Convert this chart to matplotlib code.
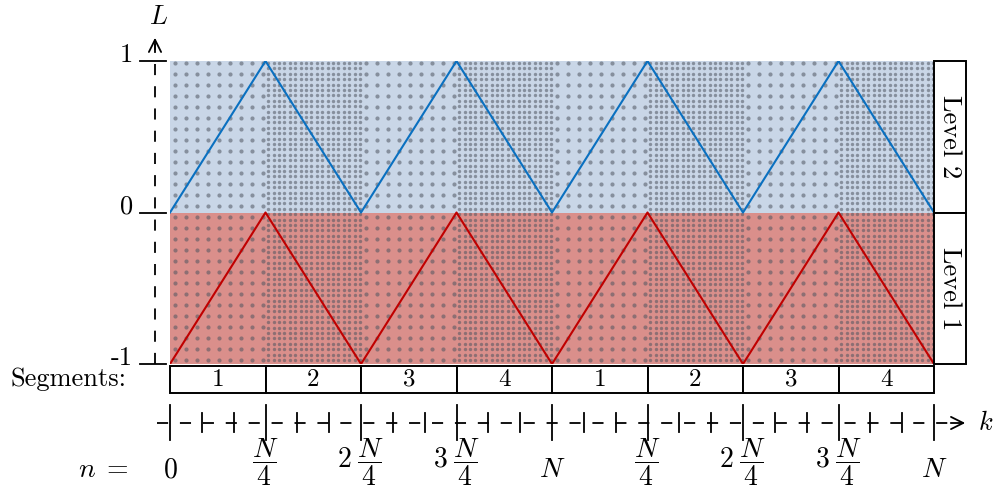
import numpy as np
import matplotlib
matplotlib.use("Agg")
import matplotlib.pyplot as plt
from matplotlib.patches import Rectangle

plt.rcParams['font.family'] = 'serif'
plt.rcParams['font.serif'] = ['cmr10']
plt.rcParams['mathtext.fontset'] = 'cm'
plt.rcParams['lines.scale_dashes'] = False

# k in units of N/4, two full passes over N
k = [0, 1, 2, 3, 4, 5, 6, 7, 8]
level2 = [0, 1, 0, 1, 0, 1, 0, 1, 0]
level1 = [-1, 0, -1, 0, -1, 0, -1, 0, -1]
segments = ['1', '2', '3', '4', '1', '2', '3', '4']
n_labels = ['$0$', r'$\dfrac{N}{4}$', r'$2\;\dfrac{N}{4}$', r'$3\;\dfrac{N}{4}$', '$N$',
            r'$\dfrac{N}{4}$', r'$2\;\dfrac{N}{4}$', r'$3\;\dfrac{N}{4}$', '$N$']
l_ticks = [1, 0, -1]
l_labels = ['1', '0', '-1']

W, H = 994, 498
fig = plt.figure(figsize=(W / 100, H / 100), dpi=100)
# plot box: k=0..8 -> x 170..934 px, L=-1..1 -> y 364..61 px
ax = fig.add_axes([170 / W, 1 - 364 / H, 764 / W, 303 / H])
ax.set_xlim(0, 8)
ax.set_ylim(-1, 1)
ax.axis('off')

XP = 764 / 8      # px per k unit
YP = 303 / 2      # px per L unit
def kx(px):
    return (px - 170) / XP
def ly(py):
    return (364 - py) / YP - 1

blue_bg = '#c9d6e7'
red_bg = '#da8f8b'
dot_c = '#4f5560'

# background halves
ax.add_patch(Rectangle((0, 0), 8, 1, facecolor=blue_bg, edgecolor='none', zorder=0))
ax.add_patch(Rectangle((0, -1), 8, 1, facecolor=red_bg, edgecolor='none', zorder=0))

# dotted texture: sparse in odd segments, dense in even ones
for q in range(8):
    if q % 2 == 0:
        step, off, s = 11.0, 5.0, 9
    else:
        step, off, s = 5.4, 2.7, 6
    xs = np.arange(170 + q * XP + off, 170 + (q + 1) * XP, step)
    ys = np.arange(63, 364, step)
    gx, gy = np.meshgrid(xs, ys)
    ax.scatter(kx(gx.ravel()), ly(gy.ravel()), s=s, color=dot_c, alpha=0.55,
               linewidths=0, zorder=1)

ax.plot(k, level2, color='#0a70c0', lw=1.5, zorder=3)
ax.plot(k, level1, color='#c00000', lw=1.5, zorder=3)

# level boxes on the right
for y0, txt in [(0, 'Level 2'), (-1, 'Level 1')]:
    ax.add_patch(Rectangle((8, y0), kx(966) - 8, 1, facecolor='white', edgecolor='black',
                           lw=1.4, clip_on=False, zorder=4))
    ax.text((8 + kx(966)) / 2, y0 + 0.5, txt, rotation=-90, ha='center', va='center',
            fontsize=19, zorder=5)

# segment boxes
yb0, yb1 = ly(393), ly(366)
for i, lab in enumerate(segments):
    ax.add_patch(Rectangle((i, yb0), 1, yb1 - yb0, facecolor='white', edgecolor='black',
                           lw=1.4, clip_on=False, zorder=4))
    ax.text(i + 0.5, (yb0 + yb1) / 2, lab, ha='center', va='center', fontsize=18, zorder=5)
ax.text(kx(126), (yb0 + yb1) / 2, 'Segments:', ha='right', va='center', fontsize=19)

# vertical L axis
xa = kx(155)
ax.plot([xa, xa], [-1, ly(44)], color='black', lw=1.3, ls=(0, (8, 8)), clip_on=False)
ax.annotate('', xy=(xa, ly(35)), xytext=(xa, ly(52)), annotation_clip=False,
            arrowprops=dict(arrowstyle='->', lw=1.3, color='black', mutation_scale=22))
for t, lab in zip(l_ticks, l_labels):
    ax.plot([kx(140), kx(166)], [t, t], color='black', lw=1.3, clip_on=False)
    ax.text(kx(133), t + 0.04, lab, ha='right', va='center', fontsize=19)
ax.text(xa + 0.04, ly(17), '$L$', ha='center', va='center', fontsize=19)

# horizontal k axis
ya = ly(423)
ax.plot([kx(157), kx(955)], [ya, ya], color='black', lw=1.3, ls=(0, (8, 8.5)),
        clip_on=False)
ax.annotate('', xy=(kx(968), ya), xytext=(kx(948), ya), annotation_clip=False,
            arrowprops=dict(arrowstyle='->', lw=1.3, color='black', mutation_scale=22))
ax.text(kx(986), ya, '$k$', ha='center', va='center', fontsize=19)
for i in range(8 * 3 + 1):
    x = i / 3
    if i % 3 == 0:
        ax.plot([x, x], [ly(440), ly(405)], color='black', lw=1.3, clip_on=False)
    else:
        ax.plot([x, x], [ly(432), ly(413)], color='black', lw=1.3, clip_on=False)

# n labels
ax.text(kx(103), ly(470), '$n\\;=$', ha='center', va='center', fontsize=20)
for i, lab in enumerate(n_labels):
    yy = ly(470) if '{N}' not in lab else ly(462)
    ax.text(k[i], yy, lab, ha='center', va='center', fontsize=20)

fig.savefig('out.png', dpi=100)
